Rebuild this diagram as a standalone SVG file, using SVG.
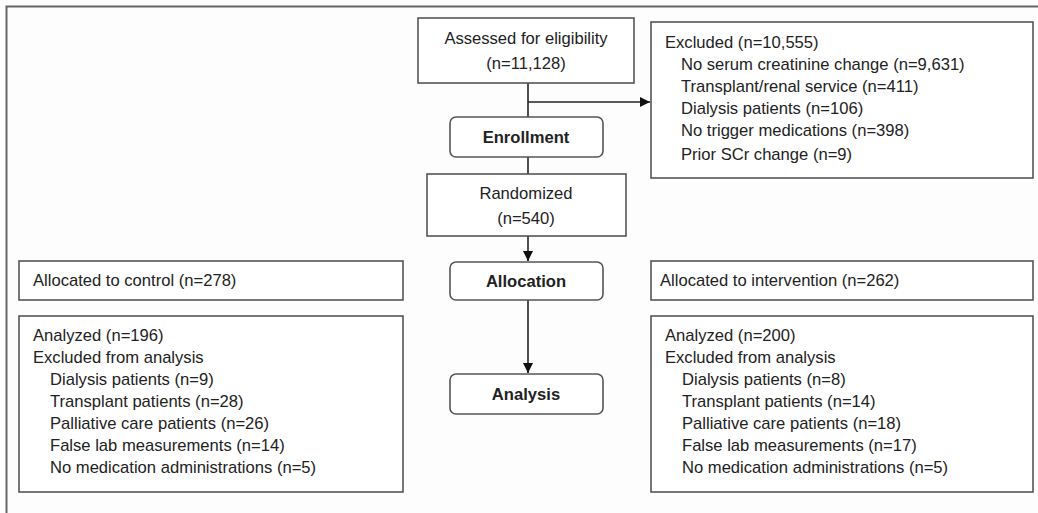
<svg xmlns="http://www.w3.org/2000/svg" width="1038" height="513" viewBox="0 0 1038 513">
<defs>
<style>
.box{fill:#fff;stroke:#555;stroke-width:1.6}
.t{font-family:"Liberation Sans",Arial,sans-serif;font-size:16.6px;fill:#222}
.c{text-anchor:middle}
.b{font-weight:bold}
.ln{stroke:#222;stroke-width:1.6;fill:none}
</style>
<marker id="ah" viewBox="0 0 10 10" refX="10" refY="5" markerWidth="10" markerHeight="10" markerUnits="userSpaceOnUse" orient="auto"><path d="M0,0L10,5L0,10z" fill="#111"/></marker>
</defs>
<rect width="1038" height="513" fill="#fdfdfd"/>
<path d="M6.5,513V6.5H1038" fill="none" stroke="#666" stroke-width="2"/>
<g id="connectors">
<path class="ln" d="M528,83V117"/>
<path class="ln" d="M528,102H650" marker-end="url(#ah)"/>
<path class="ln" d="M528,157V174"/>
<path class="ln" d="M528,236V261" marker-end="url(#ah)"/>
<path class="ln" d="M528,300V373" marker-end="url(#ah)"/>
</g>
<g id="assessed">
<rect class="box" x="418" y="18" width="216" height="65"/>
<text class="t c" x="526" y="44">Assessed for eligibility</text>
<text class="t c" x="526" y="69">(n=11,128)</text>
</g>
<g id="excluded">
<rect class="box" x="651" y="22" width="382" height="156"/>
<text class="t" x="665" y="48">Excluded (n=10,555)</text>
<text class="t" x="681" y="70">No serum creatinine change (n=9,631)</text>
<text class="t" x="681" y="92">Transplant/renal service (n=411)</text>
<text class="t" x="681" y="114">Dialysis patients (n=106)</text>
<text class="t" x="681" y="136">No trigger medications (n=398)</text>
<text class="t" x="681" y="160">Prior SCr change (n=9)</text>
</g>
<g id="enrollment">
<rect class="box" x="450" y="117" width="153" height="40" rx="6"/>
<text class="t c b" x="526" y="143">Enrollment</text>
</g>
<g id="randomized">
<rect class="box" x="427" y="174" width="199" height="62"/>
<text class="t c" x="526" y="199">Randomized</text>
<text class="t c" x="526" y="224">(n=540)</text>
</g>
<g id="allocation">
<rect class="box" x="450" y="262" width="153" height="38" rx="6"/>
<text class="t c b" x="526" y="287">Allocation</text>
</g>
<g id="analysis">
<rect class="box" x="450" y="374" width="153" height="40" rx="6"/>
<text class="t c b" x="526" y="400">Analysis</text>
</g>
<g id="alloc-control">
<rect class="box" x="19" y="261" width="384" height="39"/>
<text class="t" x="33" y="286">Allocated to control (n=278)</text>
</g>
<g id="analyzed-control">
<rect class="box" x="19" y="316" width="384" height="176"/>
<text class="t" x="33" y="341">Analyzed (n=196)</text>
<text class="t" x="33" y="363">Excluded from analysis</text>
<text class="t" x="50" y="385">Dialysis patients (n=9)</text>
<text class="t" x="50" y="407">Transplant patients (n=28)</text>
<text class="t" x="50" y="429">Palliative care patients (n=26)</text>
<text class="t" x="50" y="451">False lab measurements (n=14)</text>
<text class="t" x="50" y="473">No medication administrations (n=5)</text>
</g>
<g id="alloc-intervention">
<rect class="box" x="651" y="261" width="382" height="39"/>
<text class="t" x="660" y="286">Allocated to intervention (n=262)</text>
</g>
<g id="analyzed-intervention">
<rect class="box" x="651" y="316" width="382" height="176"/>
<text class="t" x="665" y="341">Analyzed (n=200)</text>
<text class="t" x="665" y="363">Excluded from analysis</text>
<text class="t" x="682" y="385">Dialysis patients (n=8)</text>
<text class="t" x="682" y="407">Transplant patients (n=14)</text>
<text class="t" x="682" y="429">Palliative care patients (n=18)</text>
<text class="t" x="682" y="451">False lab measurements (n=17)</text>
<text class="t" x="682" y="473">No medication administrations (n=5)</text>
</g>
</svg>
